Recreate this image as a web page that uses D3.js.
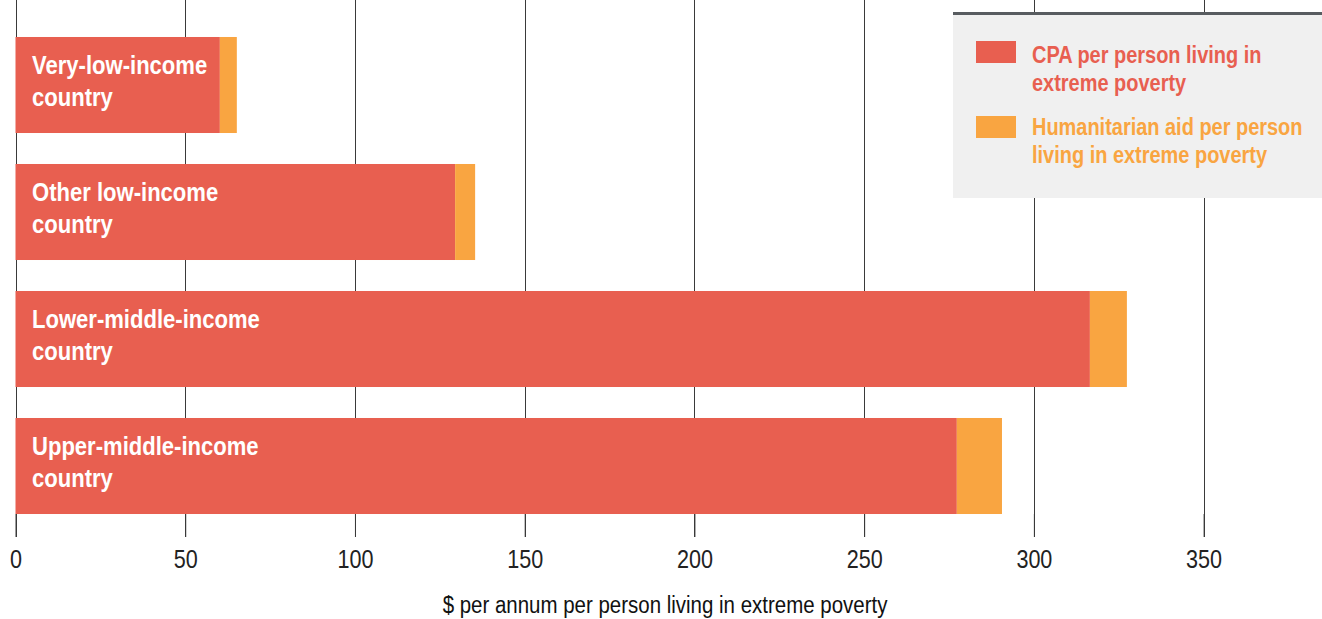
<!DOCTYPE html>
<html>
<head>
<meta charset="utf-8">
<script src="https://cdn.jsdelivr.net/npm/d3@7"></script>
<style>
  html, body { margin: 0; padding: 0; background: #fff; }
  svg { display: block; }
  text { font-family: "Liberation Sans", Arial, sans-serif; }
</style>
</head>
<body>
<svg id="chart" width="1322" height="619"></svg>
<script>
const categories = [
  ["Very-low-income", "country"],
  ["Other low-income", "country"],
  ["Lower-middle-income", "country"],
  ["Upper-middle-income", "country"]
];
const cpaValues = [60.2, 129.5, 316.5, 277.3];
const humanitarianValues = [5.0, 5.9, 10.9, 13.3];
const tickValues = [0, 50, 100, 150, 200, 250, 300, 350];
const seriesNames = [
  ["CPA per person living in", "extreme poverty"],
  ["Humanitarian aid per person", "living in extreme poverty"]
];
const colors = ["#e85f50", "#f9a541"];
const axisTitle = "$ per annum per person living in extreme poverty";

const svg = d3.select("#chart");
const W = 1322, H = 619;

const x = d3.scaleLinear().domain([0, 385]).range([15.5, 15.5 + 385 * 3.3946]);
const y = d3.scaleBand().domain(d3.range(categories.length))
  .range([21.5, 529.5]).paddingInner(0.244).paddingOuter(0.122);

// gridlines
svg.append("g").selectAll("line").data(tickValues).join("line")
  .attr("x1", d => Math.round(x(d)) + 0.5).attr("x2", d => Math.round(x(d)) + 0.5)
  .attr("y1", 0).attr("y2", 537)
  .attr("stroke", "#3a3a3a").attr("stroke-width", 1);

// bars
const data = categories.map((c, i) => ({ i, c, cpa: cpaValues[i], hum: humanitarianValues[i] }));
const gBars = svg.append("g");
gBars.selectAll("rect.cpa").data(data).join("rect")
  .attr("class", "cpa")
  .attr("x", x(0)).attr("y", d => y(d.i))
  .attr("width", d => x(d.cpa) - x(0)).attr("height", y.bandwidth())
  .attr("fill", colors[0]);
gBars.selectAll("rect.hum").data(data).join("rect")
  .attr("class", "hum")
  .attr("x", d => x(d.cpa)).attr("y", d => y(d.i))
  .attr("width", d => x(d.cpa + d.hum) - x(d.cpa)).attr("height", y.bandwidth())
  .attr("fill", colors[1]);

// bar labels (condensed look via horizontal scale)
gBars.selectAll("text.lbl").data(data).join("text")
  .attr("class", "lbl")
  .attr("transform", d => `translate(32,${y(d.i) + 36.7}) scale(0.865,1)`)
  .attr("fill", "#fff").attr("font-size", 25.5).attr("font-weight", "bold")
  .selectAll("tspan").data(d => d.c).join("tspan")
  .attr("x", 0).attr("dy", (d, k) => k === 0 ? 0 : 32).text(d => d);

// axis
const axis = d3.axisBottom(x).tickValues(tickValues).tickSize(23).tickPadding(10).tickFormat(d3.format("d"));
const gAxis = svg.append("g").attr("transform", "translate(0,514)").call(axis);
gAxis.select(".domain").remove();
gAxis.selectAll(".tick line").attr("stroke", "#3a3a3a");
gAxis.selectAll(".tick text")
  .attr("font-size", 26).attr("fill", "#222")
  .attr("font-family", "Liberation Sans, Arial, sans-serif")
  .attr("y", null).attr("dy", null)
  .attr("transform", "translate(0,54) scale(0.83,1)");

svg.append("text")
  .attr("transform", "translate(665,613) scale(0.89,1)")
  .attr("text-anchor", "middle")
  .attr("font-size", 23).attr("fill", "#111").text(axisTitle);

// legend
const lg = svg.append("g");
lg.append("rect").attr("x", 953).attr("y", 12).attr("width", W - 953).attr("height", 186).attr("fill", "#f0f0f0");
lg.append("rect").attr("x", 953).attr("y", 12).attr("width", W - 953).attr("height", 3).attr("fill", "#585c60");
seriesNames.forEach((s, i) => {
  lg.append("rect").attr("x", 976).attr("y", 41 + i * 75).attr("width", 40).attr("height", 22).attr("fill", colors[i]);
  lg.append("text")
    .attr("transform", `translate(1032,${62.7 + i * 72.3}) scale(0.815,1)`)
    .attr("fill", colors[i]).attr("font-size", 24.5).attr("font-weight", "bold")
    .selectAll("tspan").data(s).join("tspan").attr("x", 0)
    .attr("dy", (d, k) => k === 0 ? 0 : 28).text(d => d);
});
</script>
</body>
</html>
